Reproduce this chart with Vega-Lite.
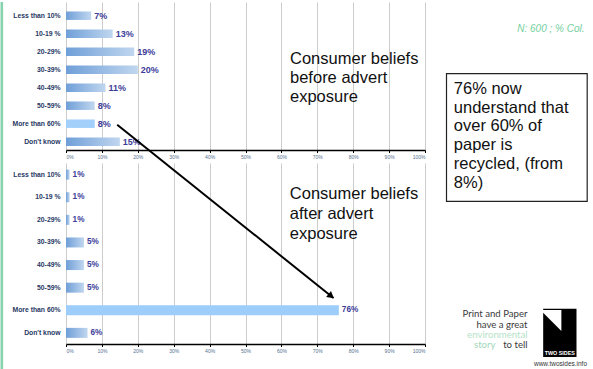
{
  "$schema": "https://vega.github.io/schema/vega-lite/v6.json",
  "padding": 0,
  "background": "white",
  "bounds": "flush",
  "spacing": 13,
  "datasets": {
    "before": [
      {"answer": "Less than 10%", "share": 0.07},
      {"answer": "10-19 %", "share": 0.13},
      {"answer": "20-29%", "share": 0.19},
      {"answer": "30-39%", "share": 0.20},
      {"answer": "40-49%", "share": 0.11},
      {"answer": "50-59%", "share": 0.08},
      {"answer": "More than 60%", "share": 0.08},
      {"answer": "Don't know", "share": 0.15}
    ],
    "after": [
      {"answer": "Less than 10%", "share": 0.01},
      {"answer": "10-19 %", "share": 0.01},
      {"answer": "20-29%", "share": 0.01},
      {"answer": "30-39%", "share": 0.05},
      {"answer": "40-49%", "share": 0.05},
      {"answer": "50-59%", "share": 0.05},
      {"answer": "More than 60%", "share": 0.76},
      {"answer": "Don't know", "share": 0.06}
    ]
  },
  "config": {
    "view": {"stroke": null},
    "font": "Liberation Sans",
    "axisX": {"grid": true, "gridColor": "#cccccc", "gridWidth": 1, "domainColor": "#000000", "domainWidth": 1.5, "tickColor": "#000000", "tickSize": 2.5, "labelFontSize": 5, "labelColor": "#55708f", "labelPadding": 2, "labelFont": "Liberation Sans"},
    "axisY": {"grid": false, "domain": false, "ticks": false, "labelFontSize": 6.8, "labelFontWeight": "bold", "labelColor": "#1f3864", "labelPadding": 6, "labelLimit": 200, "labelFont": "Liberation Sans"}
  },
  "vconcat": [
    {
      "width": 359,
      "height": 148,
      "resolve": {"scale": {"x": "independent", "y": "independent"}},
      "layer": [
        {
          "data": {"name": "before"},
          "encoding": {
            "y": {"field": "answer", "type": "nominal", "sort": null, "title": null, "scale": {"paddingInner": 0.53, "paddingOuter": 0.376, "align": 0.7}},
            "x": {"field": "share", "type": "quantitative", "title": null, "scale": {"domain": [0, 1], "nice": false}, "axis": {"values": [0, 0.1, 0.2, 0.3, 0.4, 0.5, 0.6, 0.7, 0.8, 0.9, 1], "format": ".0%"}}
          },
          "layer": [
            {
              "mark": {"type": "bar"},
              "encoding": {
                "color": {
                  "condition": {"test": "datum.answer === 'More than 60%'", "value": "#a3d0fb"},
                  "value": {"gradient": "linear", "x1": 0, "y1": 0, "x2": 1, "y2": 0, "stops": [{"offset": 0, "color": "#6f9fd8"}, {"offset": 1, "color": "#c0d6ef"}]}
                }
              }
            },
            {
              "mark": {"type": "text", "align": "left", "baseline": "middle", "dx": 3, "fontSize": 9, "fontWeight": "bold", "color": "#3d3d99"},
              "encoding": {"text": {"field": "share", "type": "quantitative", "format": ".0%"}}
            }
          ]
        },
        {
          "layer": [
            {
              "data": {"values": [{}]},
              "mark": {"type": "rule", "color": "#86d3ad", "strokeWidth": 2.6},
              "encoding": {
                "x": {"datum": -0.1788, "type": "quantitative", "scale": {"domain": [0, 1], "nice": false, "zero": false}, "axis": null},
                "y": {"datum": -0.761, "type": "quantitative", "scale": {"domain": [-0.761, 7.461], "reverse": true, "nice": false, "zero": false}, "axis": null},
                "y2": {"datum": 19.74}
              }
            },
            {
              "data": {"values": [{}]},
              "mark": {"type": "text", "text": "Consumer beliefs\nbefore advert\nexposure", "lineBreak": "\n", "align": "left", "baseline": "alphabetic", "fontSize": 16.5, "lineHeight": 19.3, "color": "#111111"},
              "encoding": {
                "x": {"datum": 0.624, "type": "quantitative", "scale": {"domain": [0, 1], "nice": false, "zero": false}, "axis": null},
                "y": {"datum": 2.667, "type": "quantitative", "scale": {"domain": [-0.761, 7.461], "reverse": true, "nice": false, "zero": false}, "axis": null}
              }
            },
            {
              "data": {"values": [{}]},
              "mark": {"type": "text", "text": "N: 600 ; % Col.", "align": "right", "baseline": "alphabetic", "fontSize": 10, "fontStyle": "italic", "color": "#74cfa0"},
              "encoding": {
                "x": {"datum": 1.4443, "type": "quantitative", "scale": {"domain": [0, 1], "nice": false, "zero": false}, "axis": null},
                "y": {"datum": 0.906, "type": "quantitative", "scale": {"domain": [-0.761, 7.461], "reverse": true, "nice": false, "zero": false}, "axis": null}
              }
            },
            {
              "data": {"values": [{}]},
              "mark": {"type": "rect", "fill": "white", "stroke": "#222222", "strokeWidth": 1.2},
              "encoding": {
                "x": {"datum": 1.0599, "type": "quantitative", "scale": {"domain": [0, 1], "nice": false, "zero": false}, "axis": null},
                "x2": {"datum": 1.4518},
                "y": {"datum": 3.222, "type": "quantitative", "scale": {"domain": [-0.761, 7.461], "reverse": true, "nice": false, "zero": false}, "axis": null},
                "y2": {"datum": 10.311}
              }
            },
            {
              "data": {"values": [{}]},
              "mark": {"type": "text", "text": "76% now\nunderstand that\nover 60% of\npaper is\nrecycled, (from\n8%)", "lineBreak": "\n", "align": "left", "baseline": "alphabetic", "fontSize": 16.5, "lineHeight": 18.9, "color": "#111111"},
              "encoding": {
                "x": {"datum": 1.0802, "type": "quantitative", "scale": {"domain": [0, 1], "nice": false, "zero": false}, "axis": null},
                "y": {"datum": 4.333, "type": "quantitative", "scale": {"domain": [-0.761, 7.461], "reverse": true, "nice": false, "zero": false}, "axis": null}
              }
            }
          ]
        }
      ]
    },
    {
      "width": 359,
      "height": 181,
      "resolve": {"scale": {"x": "independent", "y": "independent"}},
      "layer": [
        {
          "data": {"name": "after"},
          "encoding": {
            "y": {"field": "answer", "type": "nominal", "sort": null, "title": null, "scale": {"paddingInner": 0.558, "paddingOuter": 0.283, "align": 0.52}},
            "x": {"field": "share", "type": "quantitative", "title": null, "scale": {"domain": [0, 1], "nice": false}, "axis": {"values": [0, 0.1, 0.2, 0.3, 0.4, 0.5, 0.6, 0.7, 0.8, 0.9, 1], "format": ".0%"}}
          },
          "layer": [
            {
              "mark": {"type": "bar"},
              "encoding": {
                "color": {
                  "condition": {"test": "datum.answer === 'More than 60%'", "value": "#9dcdfb"},
                  "value": {"gradient": "linear", "x1": 0, "y1": 0, "x2": 1, "y2": 0, "stops": [{"offset": 0, "color": "#6f9fd8"}, {"offset": 1, "color": "#c0d6ef"}]}
                }
              }
            },
            {
              "mark": {"type": "text", "align": "left", "baseline": "middle", "dx": 3, "fontSize": 8.2, "fontWeight": "bold", "color": "#3d3d99"},
              "encoding": {"text": {"field": "share", "type": "quantitative", "format": ".0%"}}
            }
          ]
        },
        {
          "layer": [
            {
              "data": {"values": [{}]},
              "mark": {"type": "text", "text": "Consumer beliefs\nafter advert\nexposure", "lineBreak": "\n", "align": "left", "baseline": "alphabetic", "fontSize": 16.5, "lineHeight": 20, "color": "#111111"},
              "encoding": {
                "x": {"datum": 0.6234, "type": "quantitative", "scale": {"domain": [0, 1], "nice": false, "zero": false}, "axis": null},
                "y": {"datum": 1.062, "type": "quantitative", "scale": {"domain": [-0.518, 7.491], "reverse": true, "nice": false, "zero": false}, "axis": null}
              }
            },
            {
              "data": {"values": [{}]},
              "mark": {"type": "rule", "color": "#000000", "strokeWidth": 2},
              "encoding": {
                "x": {"datum": 0.1426, "type": "quantitative", "scale": {"domain": [0, 1], "nice": false, "zero": false}, "axis": null},
                "x2": {"datum": 0.7451},
                "y": {"datum": -2.212, "type": "quantitative", "scale": {"domain": [-0.518, 7.491], "reverse": true, "nice": false, "zero": false}, "axis": null},
                "y2": {"datum": 5.456}
              }
            },
            {
              "data": {"values": [{}]},
              "mark": {"type": "point", "shape": "triangle-right", "filled": true, "color": "#000000", "opacity": 1, "size": 60, "angle": 38.7},
              "encoding": {
                "x": {"datum": 0.7387, "type": "quantitative", "scale": {"domain": [0, 1], "nice": false, "zero": false}, "axis": null},
                "y": {"datum": 5.372, "type": "quantitative", "scale": {"domain": [-0.518, 7.491], "reverse": true, "nice": false, "zero": false}, "axis": null}
              }
            },
            {
              "data": {"values": [{}]},
              "mark": {"type": "text", "text": "Print and Paper\nhave a great", "lineBreak": "\n", "align": "right", "baseline": "alphabetic", "fontSize": 9.6, "lineHeight": 11.5, "font": "Lato", "color": "#3a3a3a"},
              "encoding": {
                "x": {"datum": 1.2855, "type": "quantitative", "scale": {"domain": [0, 1], "nice": false, "zero": false}, "axis": null},
                "y": {"datum": 6.296, "type": "quantitative", "scale": {"domain": [-0.518, 7.491], "reverse": true, "nice": false, "zero": false}, "axis": null}
              }
            },
            {
              "data": {"values": [{}]},
              "mark": {"type": "text", "text": "environmental", "align": "right", "baseline": "alphabetic", "fontSize": 9.6, "font": "Lato", "color": "#b6e2c8"},
              "encoding": {
                "x": {"datum": 1.2855, "type": "quantitative", "scale": {"domain": [0, 1], "nice": false, "zero": false}, "axis": null},
                "y": {"datum": 7.228, "type": "quantitative", "scale": {"domain": [-0.518, 7.491], "reverse": true, "nice": false, "zero": false}, "axis": null}
              }
            },
            {
              "data": {"values": [{}]},
              "mark": {"type": "text", "text": "to tell", "align": "right", "baseline": "alphabetic", "fontSize": 9.6, "font": "Lato", "color": "#3a3a3a"},
              "encoding": {
                "x": {"datum": 1.2855, "type": "quantitative", "scale": {"domain": [0, 1], "nice": false, "zero": false}, "axis": null},
                "y": {"datum": 7.69, "type": "quantitative", "scale": {"domain": [-0.518, 7.491], "reverse": true, "nice": false, "zero": false}, "axis": null}
              }
            },
            {
              "data": {"values": [{}]},
              "mark": {"type": "text", "text": "story", "align": "right", "baseline": "alphabetic", "fontSize": 9.6, "font": "Lato", "color": "#9fd8b8"},
              "encoding": {
                "x": {"datum": 1.1964, "type": "quantitative", "scale": {"domain": [0, 1], "nice": false, "zero": false}, "axis": null},
                "y": {"datum": 7.69, "type": "quantitative", "scale": {"domain": [-0.518, 7.491], "reverse": true, "nice": false, "zero": false}, "axis": null}
              }
            },
            {
              "data": {"values": [{}]},
              "mark": {"type": "rect", "color": "#000000"},
              "encoding": {
                "x": {"datum": 1.3292, "type": "quantitative", "scale": {"domain": [0, 1], "nice": false, "zero": false}, "axis": null},
                "x2": {"datum": 1.4220},
                "y": {"datum": 5.929, "type": "quantitative", "scale": {"domain": [-0.518, 7.491], "reverse": true, "nice": false, "zero": false}, "axis": null},
                "y2": {"datum": 8.067}
              }
            },
            {
              "data": {"values": [{}]},
              "mark": {"type": "point", "shape": "M -1 -1 L 1 -1 L 1 1 Z", "filled": true, "color": "#ffffff", "opacity": 1, "size": 441, "strokeWidth": 0},
              "encoding": {
                "x": {"datum": 1.3507, "type": "quantitative", "scale": {"domain": [0, 1], "nice": false, "zero": false}, "axis": null},
                "y": {"datum": 6.451, "type": "quantitative", "scale": {"domain": [-0.518, 7.491], "reverse": true, "nice": false, "zero": false}, "axis": null}
              }
            },
            {
              "data": {"values": [{}]},
              "mark": {"type": "text", "text": "TWO SIDES", "align": "center", "baseline": "middle", "fontSize": 5.4, "fontWeight": "bold", "color": "#ffffff"},
              "encoding": {
                "x": {"datum": 1.3755, "type": "quantitative", "scale": {"domain": [0, 1], "nice": false, "zero": false}, "axis": null},
                "y": {"datum": 7.889, "type": "quantitative", "scale": {"domain": [-0.518, 7.491], "reverse": true, "nice": false, "zero": false}, "axis": null}
              }
            },
            {
              "data": {"values": [{}]},
              "mark": {"type": "text", "text": "www.twosides.info", "align": "center", "baseline": "middle", "fontSize": 6.5, "color": "#333333"},
              "encoding": {
                "x": {"datum": 1.3774, "type": "quantitative", "scale": {"domain": [0, 1], "nice": false, "zero": false}, "axis": null},
                "y": {"datum": 8.363, "type": "quantitative", "scale": {"domain": [-0.518, 7.491], "reverse": true, "nice": false, "zero": false}, "axis": null}
              }
            }
          ]
        }
      ]
    }
  ]
}
